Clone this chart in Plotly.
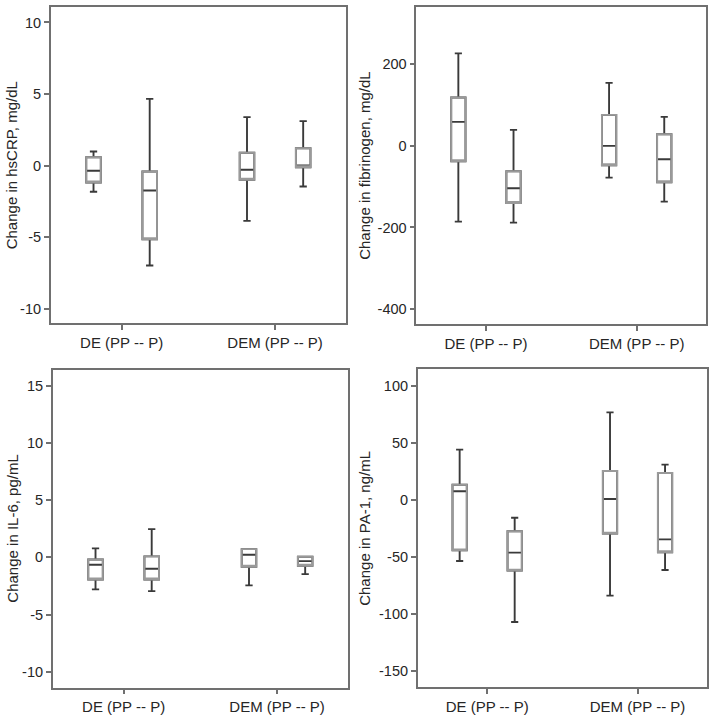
import plotly.graph_objects as go

# ---------------- data ----------------
categories = ["DE (PP -- P)", "DEM (PP -- P)"]
# box order in every panel: DE first box, DE second box, DEM first box, DEM second box
box_category = [0, 0, 1, 1]
box_side = [-1, 1, -1, 1]

hscrp_lower = [-1.84, -6.99, -3.87, -1.47]
hscrp_q1 = [-1.19, -5.15, -1.00, -0.12]
hscrp_median = [-0.37, -1.75, -0.30, 0.00]
hscrp_q3 = [0.58, -0.42, 0.89, 1.21]
hscrp_upper = [0.98, 4.66, 3.38, 3.10]

fib_lower = [-185.7, -188.1, -77.7, -136.6]
fib_q1 = [-37.6, -139.9, -47.4, -89.2]
fib_median = [58.9, -103.9, 0.0, -32.7]
fib_q3 = [118.6, -62.2, 76.1, 28.6]
fib_upper = [227.0, 39.3, 154.6, 71.2]

il6_lower = [-2.80, -2.95, -2.45, -1.46]
il6_q1 = [-1.93, -1.93, -0.82, -0.73]
il6_median = [-0.64, -0.99, 0.23, -0.32]
il6_q3 = [-0.18, 0.09, 0.73, 0.06]
il6_upper = [0.79, 2.48, 0.73, 0.06]

pa1_lower = [-53.7, -107.2, -84.1, -61.6]
pa1_q1 = [-44.4, -62.2, -29.8, -46.1]
pa1_median = [7.3, -46.4, 0.6, -34.8]
pa1_q3 = [13.1, -27.7, 25.1, 23.4]
pa1_upper = [43.8, -15.8, 76.5, 30.7]

titles = ["Change in hsCRP, mg/dL", "Change in fibrinogen, mg/dL",
          "Change in IL-6, pg/mL", "Change in PA-1, ng/mL"]
y_ranges = [[-11.03, 11.1], [-437.6, 340.0], [-11.4, 16.4], [-164.4, 114.2]]
hscrp_ticks = [-10, -5, 0, 5, 10]
fib_ticks = [-400, -200, 0, 200]
il6_ticks = [-10, -5, 0, 5, 10, 15]
pa1_ticks = [-150, -100, -50, 0, 50, 100]
y_ticks = [hscrp_ticks, fib_ticks, il6_ticks, pa1_ticks]

# ---------------- style ----------------
W, H = 714, 719
OFFSET = 0.183
BOX_W = 0.095
DARK = "#3a3a3a"
GRAY = "#9a9a9a"
FRAME = "#707070"
TXT = "#262626"
FONT = "Arial, Liberation Sans, sans-serif"

# panel frames in pixels: x0, x1, y0(top), y1(bottom)
frames = [(50.7, 346.0, 6.7, 323.3), (416.3, 706.3, 7.3, 324.3),
          (52.7, 348.0, 370.0, 687.7), (417.7, 707.0, 369.3, 687.3)]
# y-title centre x positions in pixels
title_x = [12.3, 365.0, 12.8, 364.5]

panels = [
    (hscrp_lower, hscrp_q1, hscrp_median, hscrp_q3, hscrp_upper),
    (fib_lower, fib_q1, fib_median, fib_q3, fib_upper),
    (il6_lower, il6_q1, il6_median, il6_q3, il6_upper),
    (pa1_lower, pa1_q1, pa1_median, pa1_q3, pa1_upper),
]

fig = go.Figure()
xpos = [c + s * OFFSET for c, s in zip(box_category, box_side)]

for i, (lo, q1, med, q3, up) in enumerate(panels):
    xa = "x" if i == 0 else f"x{i+1}"
    ya = "y" if i == 0 else f"y{i+1}"
    # dark whiskers + median
    fig.add_trace(go.Box(
        x=xpos, q1=q1, median=med, q3=q3, lowerfence=lo, upperfence=up,
        width=BOX_W, whiskerwidth=0.5, boxpoints=False,
        line=dict(color=DARK, width=1.9), fillcolor="white",
        xaxis=xa, yaxis=ya, showlegend=False, hoverinfo="skip"))
    # gray box outline on top
    fig.add_trace(go.Box(
        x=xpos, q1=q1, median=q1, q3=q3, lowerfence=q1, upperfence=q3,
        width=BOX_W, whiskerwidth=0, boxpoints=False,
        line=dict(color=GRAY, width=1.9), fillcolor="rgba(0,0,0,0)",
        xaxis=xa, yaxis=ya, showlegend=False, hoverinfo="skip"))

layout = dict(
    width=W, height=H, margin=dict(l=0, r=0, t=0, b=0),
    paper_bgcolor="white", plot_bgcolor="white",
    boxmode="overlay", font=dict(family=FONT, color=TXT),
)
annotations = []
for i, (x0, x1, y0, y1) in enumerate(frames):
    xk = "xaxis" if i == 0 else f"xaxis{i+1}"
    yk = "yaxis" if i == 0 else f"yaxis{i+1}"
    xa = "x" if i == 0 else f"x{i+1}"
    ya = "y" if i == 0 else f"y{i+1}"
    layout[xk] = dict(
        domain=[x0 / W, x1 / W], anchor=ya, range=[-0.462, 1.462],
        tickvals=[0, 1], ticktext=categories, ticks="outside", ticklen=5,
        tickcolor=FRAME, tickwidth=1.5, showline=True, linecolor=FRAME,
        linewidth=1.5, mirror=True, showgrid=False, zeroline=False,
        automargin=False, tickfont=dict(size=15, color=TXT))
    layout[yk] = dict(
        domain=[1 - y1 / H, 1 - y0 / H], anchor=xa, range=y_ranges[i],
        tickvals=y_ticks[i], ticktext=[str(v) for v in y_ticks[i]],
        ticks="outside", ticklen=5, tickcolor=FRAME,
        tickwidth=1.5, showline=True, linecolor=FRAME, linewidth=1.5,
        mirror=True, showgrid=False, zeroline=False, automargin=False,
        tickfont=dict(size=14.5, color=TXT))
    annotations.append(dict(
        text=titles[i], textangle=-90, showarrow=False,
        xref="paper", yref="paper", x=title_x[i] / W,
        y=1 - (y0 + y1) / 2 / H, xanchor="center", yanchor="middle",
        font=dict(size=15, color=TXT)))

layout["annotations"] = annotations
fig.update_layout(**layout)
fig.write_html(
    "out.html",
    config={"displayModeBar": False},
    post_script="document.body.style.margin='0';document.body.style.overflow='hidden';")
